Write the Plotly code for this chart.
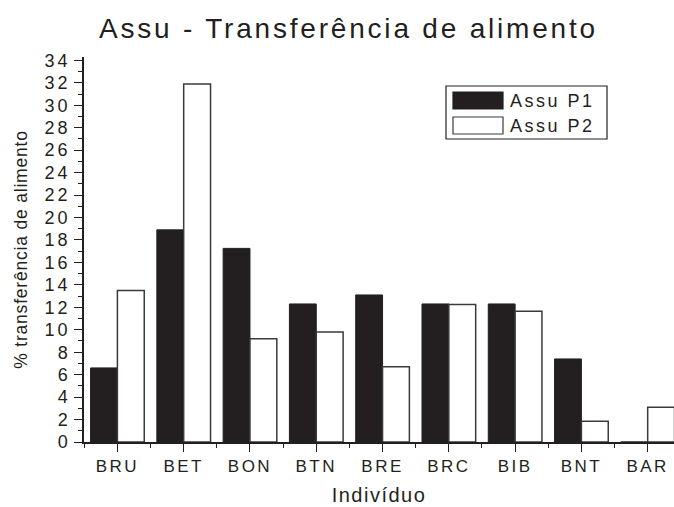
import plotly.graph_objs as go

# data
individuos = ['BRU', 'BET', 'BON', 'BTN', 'BRE', 'BRC', 'BIB', 'BNT', 'BAR']
assu_p1 = [6.6, 18.9, 17.25, 12.3, 13.1, 12.3, 12.3, 7.4, 0.0]
assu_p2 = [13.5, 31.9, 9.2, 9.8, 6.7, 12.25, 11.65, 1.85, 3.1]
y_ticks = [0, 2, 4, 6, 8, 10, 12, 14, 16, 18, 20, 22, 24, 26, 28, 30, 32, 34]

title_text = 'Assu - Transferência de alimento'
y_title = '% transferência de alimento'
x_title = 'Indivíduo'
series_names = ['Assu P1', 'Assu P2']

INK = '#231f20'
FONT = 'Liberation Sans, Arial, sans-serif'

W, H = 674, 507
L, R, T, B = 84, 0, 57, 65


def spaced(s, px):
    return f'<span style="letter-spacing:{px}px">{s}</span>'


def paper_x(px):
    return (px - L) / (W - L - R)


def paper_y(py):
    return (H - B - py) / (H - T - B)


xpos = list(range(len(individuos)))

fig = go.Figure()
fig.add_trace(go.Bar(x=xpos, y=assu_p1, name=series_names[0],
                     marker=dict(color=INK, line=dict(color=INK, width=1))))
fig.add_trace(go.Bar(x=xpos, y=assu_p2, name=series_names[1],
                     marker=dict(color='white', line=dict(color='#3a3a3a', width=1.5))))

fig.update_layout(
    width=W, height=H,
    margin=dict(l=L, r=R, t=T, b=B, autoexpand=False),
    paper_bgcolor='white', plot_bgcolor='white',
    barmode='group', bargap=0.19, bargroupgap=0,
    showlegend=False,
    font=dict(family=FONT, color=INK),
    title=dict(text=spaced(title_text, 2.8), x=0.517, xanchor='center',
               y=1 - 28 / H, yanchor='middle', font=dict(size=28, color=INK)),
)

fig.update_xaxes(
    range=[-0.504, 8.397], automargin=False,
    tickvals=xpos, ticktext=[spaced(c, 2.5) for c in individuos],
    ticks='outside', ticklen=8, tickwidth=1.2, tickcolor=INK,
    minor=dict(tick0=0.5, dtick=1, ticks='outside', ticklen=4, tickwidth=1.2, tickcolor=INK),
    showline=True, linecolor=INK, linewidth=1.5,
    showgrid=False, zeroline=False,
    tickfont=dict(size=17),
    title=dict(text=spaced(x_title, 1.5), font=dict(size=20), standoff=13),
)

fig.update_yaxes(
    range=[0, 34.3], automargin=False,
    tickvals=y_ticks, ticktext=[spaced(str(v), 3) for v in y_ticks],
    ticks='outside', ticklen=8, tickwidth=1.2, tickcolor=INK,
    minor=dict(dtick=1, ticks='outside', ticklen=4, tickwidth=1.2, tickcolor=INK),
    showline=True, linecolor=INK, linewidth=1.5,
    showgrid=False, zeroline=False,
    tickfont=dict(size=18),
    title=dict(text=spaced(y_title, 0.8), font=dict(size=17.5), standoff=12),
)

# legend box drawn by hand so the swatches are wide rectangles like the reference
fig.add_shape(type='rect', xref='paper', yref='paper',
              x0=paper_x(446), x1=paper_x(607), y0=paper_y(139), y1=paper_y(86),
              line=dict(color=INK, width=1.2), fillcolor='white')
swatch_fill = [INK, 'white']
swatch_line = [INK, '#3a3a3a']
for i, name in enumerate(series_names):
    top = 92 + i * 25
    fig.add_shape(type='rect', xref='paper', yref='paper',
                  x0=paper_x(453), x1=paper_x(503), y0=paper_y(top + 17), y1=paper_y(top),
                  line=dict(color=swatch_line[i], width=1.2), fillcolor=swatch_fill[i])
    fig.add_annotation(xref='paper', yref='paper', x=paper_x(508), y=paper_y(top + 9),
                       xanchor='left', yanchor='middle', showarrow=False,
                       text=spaced(name, 2.5), font=dict(size=18, color=INK))

# page body has an 8px default margin; drop it so the figure sits at the window corner
fig.write_html("out.html", config={'displayModeBar': False},
               post_script="document.body.style.margin='0';")
